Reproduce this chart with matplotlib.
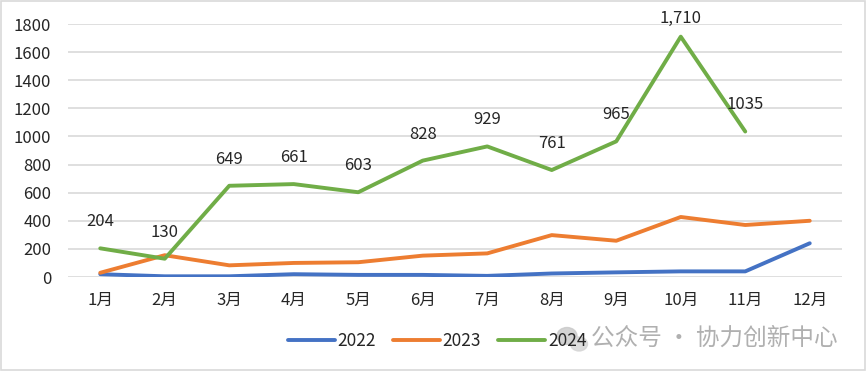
import matplotlib.pyplot as plt
from matplotlib.patches import Rectangle, Ellipse

plt.rcParams['font.family'] = ['Noto Sans CJK SC', 'DejaVu Sans']

months = ['1月', '2月', '3月', '4月', '5月', '6月', '7月', '8月', '9月', '10月', '11月', '12月']
v2022 = [20, 5, 5, 20, 15, 15, 8, 25, 33, 40, 40, 240]
v2023 = [30, 155, 83, 100, 105, 152, 168, 298, 258, 427, 370, 400]
v2024 = [204, 130, 649, 661, 603, 828, 929, 761, 965, 1710, 1035]
labels2024 = ['204', '130', '649', '661', '603', '828', '929', '761', '965', '1,710', '1035']

fig = plt.figure(figsize=(8.67, 3.71), dpi=100)
ax = fig.add_axes([68 / 867, 94 / 371, 774 / 867, 253 / 371])

x = list(range(len(months)))
ax.plot(x, v2022, color='#4472C4', lw=2.8, label='2022', solid_capstyle='round')
ax.plot(x, v2023, color='#ED7D31', lw=2.8, label='2023', solid_capstyle='round')
ax.plot(x[:len(v2024)], v2024, color='#70AD47', lw=2.8, label='2024', solid_capstyle='round')

for i, (v, s) in enumerate(zip(v2024, labels2024)):
    off = 7 if v > 1500 else 13
    ax.annotate(s, (i, v), xytext=(0, off), textcoords='offset points',
                ha='center', va='bottom', fontsize=12, color='#262626')

ax.set_xlim(-0.5, 11.5)
ax.set_ylim(0, 1800)
ax.set_yticks(range(0, 1801, 200))
ax.set_xticks(x)
ax.set_xticklabels(months)
ax.tick_params(length=0, labelsize=12, colors='#262626')
ax.tick_params(axis='y', pad=12)
ax.tick_params(axis='x', pad=11)
ax.grid(axis='y', color='#D9D9D9', lw=1.2)
ax.set_axisbelow(True)
for sp in ax.spines.values():
    sp.set_visible(False)

leg = fig.legend(loc='center', bbox_to_anchor=(437 / 867, 1 - 341 / 371), ncol=3,
                 frameon=False, fontsize=12.5, handlelength=2.7, handletextpad=0.15,
                 columnspacing=1.0)
for t in leg.get_texts():
    t.set_color('#262626')

# watermark
fig.patches.append(Ellipse((567 / 867, 1 - 336 / 371), 20 / 867, 17 / 371,
                           transform=fig.transFigure, color='#C8C8C8', alpha=0.8))
fig.patches.append(Ellipse((579 / 867, 1 - 344 / 371), 17 / 867, 14 / 371,
                           transform=fig.transFigure, color='#D4D4D4', alpha=0.8))
fig.text(838 / 867, 1 - 338 / 371, '公众号 · 协力创新中心', ha='right', va='center',
         fontsize=17, color='#B0B0B0')

fig.patches.append(Rectangle((0.001, 0.002), 0.997, 0.995, transform=fig.transFigure,
                             fill=False, edgecolor='#D9D9D9', lw=1.2))

fig.savefig('out.png', dpi=100)
